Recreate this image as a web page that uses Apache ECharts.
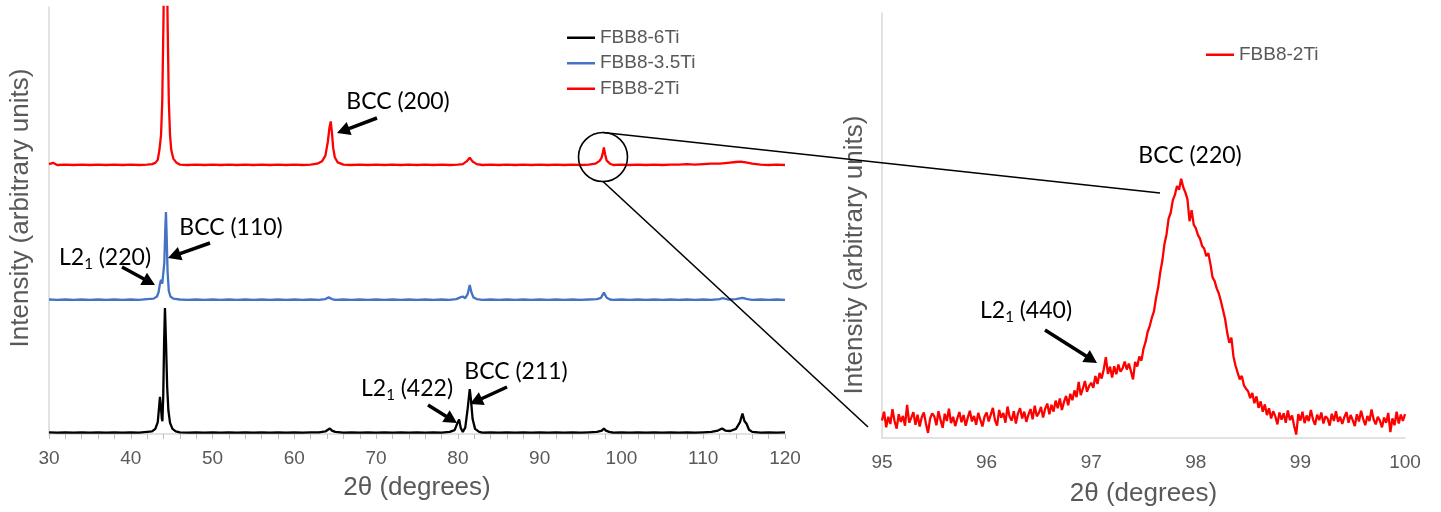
<!DOCTYPE html>
<html>
<head>
<meta charset="utf-8">
<title>XRD patterns of FBB8 alloys</title>
<script src="https://cdn.jsdelivr.net/npm/echarts/dist/echarts.min.js"></script>
<style>
  html, body { margin: 0; padding: 0; background: #ffffff; }
  #chart { width: 1441px; height: 512px; }
</style>
</head>
<body>
<div id="chart"></div>
<script>
// ---- Full scans, 2θ = 30–120°, stacked with a vertical offset (arbitrary units) ----
const sample6Ti = [
  [30,0.4],[31,0.3],[32,0.4],[33,0.3],[34,0.4],[35,0.3],[36,0.4],[37,0.3],[38,0.4],[39,0.3],[40,0.4],[41,0.3],[42,0.5],
  [42.6,0.6],[43.0,1.2],[43.3,2.8],[43.45,6.0],[43.57,8.7],[43.68,6.5],[43.8,3.6],[43.87,3.0],[43.97,9.0],[44.08,22.0],
  [44.18,29.5],[44.3,22.0],[44.45,11.0],[44.6,5.5],[44.8,2.6],[45.1,1.2],[45.5,0.6],
  [46,0.4],[47,0.3],[48,0.4],[49,0.3],[50,0.4],[51,0.3],[52,0.4],[53,0.3],[54,0.4],[55,0.3],[56,0.4],[57,0.3],[58,0.4],
  [59,0.3],[60,0.4],[61,0.3],[62,0.4],[63,0.4],[63.8,0.6],[64.1,1.0],[64.35,1.3],[64.6,0.8],[65,0.5],[66,0.3],[67,0.4],
  [68,0.3],[69,0.4],[70,0.3],[71,0.4],[72,0.3],[73,0.4],[74,0.3],[75,0.4],[76,0.3],[77,0.4],[78,0.3],[79,0.5],
  [79.6,0.9],[79.95,2.6],[80.15,3.4],[80.35,1.4],[80.6,0.5],[80.9,1.5],[81.2,6.0],[81.45,10.5],[81.6,8.0],[81.8,3.5],
  [82.1,1.2],[82.6,0.5],[83,0.3],[84,0.4],[85,0.3],[86,0.4],[87,0.3],[88,0.4],[89,0.3],[90,0.4],[91,0.3],[92,0.4],
  [93,0.3],[94,0.4],[95,0.3],[96,0.4],[97,0.5],[97.6,0.8],[97.85,1.3],[98.1,0.8],[98.5,0.5],[99,0.3],[100,0.4],
  [101,0.3],[102,0.4],[103,0.3],[104,0.4],[105,0.3],[106,0.4],[107,0.3],[108,0.4],[109,0.3],[110,0.4],[111,0.5],
  [111.8,0.8],[112.3,1.3],[112.7,0.8],[113.3,0.7],[114.0,1.2],[114.5,2.8],[114.8,4.8],[115.05,3.0],[115.3,2.4],
  [115.6,1.0],[116,0.5],[117,0.3],[118,0.4],[119,0.3],[120,0.4]
];

const sample35Ti = [
  [30,31.5],[31,31.4],[32,31.5],[33,31.4],[34,31.5],[35,31.4],[36,31.5],[37,31.4],[38,31.5],[39,31.4],[40,31.5],
  [41,31.4],[42,31.6],[42.8,31.7],[43.2,32.2],[43.4,33.2],[43.55,35.0],[43.7,36.1],[43.85,35.2],[43.95,34.9],
  [44.1,40.0],[44.22,48.0],[44.3,52.0],[44.38,47.0],[44.5,38.0],[44.65,33.5],[44.85,32.2],[45.2,31.7],
  [46,31.5],[47,31.4],[48,31.5],[49,31.4],[50,31.5],[51,31.4],[52,31.5],[53,31.4],[54,31.5],[55,31.4],[56,31.5],
  [57,31.4],[58,31.5],[59,31.4],[60,31.5],[61,31.4],[62,31.5],[63,31.4],[63.8,31.6],[64.2,32.0],[64.6,31.6],
  [65,31.4],[66,31.5],[67,31.4],[68,31.5],[69,31.4],[70,31.5],[71,31.4],[72,31.5],[73,31.4],[74,31.5],[75,31.4],
  [76,31.5],[77,31.4],[78,31.5],[79,31.4],[79.8,31.6],[80.3,32.0],[80.6,32.2],[80.9,31.8],[81.2,32.8],[81.45,34.9],
  [81.65,33.2],[81.9,32.0],[82.3,31.6],[83,31.4],[84,31.5],[85,31.4],[86,31.5],[87,31.4],[88,31.5],[89,31.4],
  [90,31.5],[91,31.4],[92,31.5],[93,31.4],[94,31.5],[95,31.4],[96,31.5],[97,31.6],[97.5,31.9],[97.85,33.1],
  [98.2,31.9],[98.6,31.5],[99,31.4],[100,31.5],[101,31.4],[102,31.5],[103,31.4],[104,31.5],[105,31.4],[106,31.5],
  [107,31.4],[108,31.5],[109,31.4],[110,31.5],[111,31.4],[112,31.6],[112.4,31.8],[113,31.5],[114,31.6],[114.8,31.9],
  [115.4,31.6],[116,31.4],[117,31.5],[118,31.4],[119,31.5],[120,31.4]
];

const sample2Ti = [
  [30,63.2],[30.5,63.5],[31,63.0],[32,63.1],[33,63.0],[34,63.1],[35,63.0],[36,63.1],[37,63.0],[38,63.1],[39,63.0],
  [40,63.1],[41,63.0],[42,63.1],[42.6,63.2],[43.0,63.5],[43.3,64.2],[43.5,66.5],[43.7,70.0],[43.85,78.0],[44.0,97.0],
  [44.1,115.0],[44.2,135.0],[44.25,140.0],[44.3,135.0],[44.4,115.0],[44.5,97.0],[44.65,78.0],[44.8,70.0],[44.95,66.5],
  [45.2,64.5],[45.6,63.5],[46,63.1],[47,63.0],[48,63.1],[49,63.0],[50,63.1],[51,63.0],[52,63.1],[53,63.0],[54,63.1],
  [55,63.0],[56,63.1],[57,63.0],[58,63.1],[59,63.0],[60,63.1],[61,63.0],[62,63.1],[62.8,63.3],[63.4,63.9],[63.8,65.2],
  [64.1,68.5],[64.3,71.8],[64.45,73.2],[64.6,70.5],[64.75,67.0],[64.95,64.8],[65.3,63.6],[66,63.1],[67,63.0],
  [68,63.1],[69,63.0],[70,63.1],[71,63.0],[72,63.1],[73,63.0],[74,63.1],[75,63.0],[76,63.1],[77,63.0],[78,63.1],
  [79,63.0],[80,63.1],[80.6,63.2],[81.1,63.9],[81.45,64.7],[81.8,63.8],[82.3,63.2],[83,63.0],[84,63.1],[85,63.0],
  [86,63.1],[87,63.0],[88,63.1],[89,63.0],[90,63.1],[91,63.0],[92,63.1],[93,63.0],[94,63.1],[95,63.0],[96,63.1],
  [96.8,63.3],[97.3,63.9],[97.55,64.6],[97.7,65.6],[97.85,67.1],[98.0,65.5],[98.2,64.0],[98.6,63.3],[99,63.0],
  [100,63.1],[101,63.0],[102,63.1],[103,63.0],[104,63.1],[105,63.0],[106,63.1],[107,63.1],[108,63.2],[109,63.1],
  [110,63.2],[111,63.3],[112,63.3],[113,63.5],[114,63.7],[114.6,63.8],[115.2,63.6],[116,63.3],[117,63.1],[118,63.0],
  [119,63.1],[120,63.0]
];

// ---- Slow scan of FBB8-2Ti around the BCC (220) reflection ----
const zoomScanStart = 95.0;   // first 2θ of the scan
const zoomScanStep = 0.02;    // 2θ step of the scan
const zoom2TiIntensity = [
  4.1, 6.2, 2.5, 5.0, 3.3, 6.8, 4.0, 2.2, 5.6, 3.8, 5.2, 2.9, 7.8, 3.6, 4.8, 6.1, 3.1, 5.5, 2.7, 4.9, 6.0, 3.4, 1.2, 4.6, 5.8,
  5.1, 3.0, 6.3, 4.2, 2.4, 5.7, 4.0, 6.9, 3.5, 5.0, 2.8, 4.6, 6.1, 3.7, 5.4, 2.9, 4.8, 6.4, 3.9, 5.2, 3.1, 5.9, 4.3, 2.7, 5.0,
  6.0, 3.9, 5.5, 7.1, 4.2, 2.9, 6.6, 4.8, 5.9, 3.6, 7.4, 5.0, 4.1, 6.3, 3.4, 5.8, 7.0, 4.6, 6.2, 3.8, 5.5, 6.8, 4.4, 7.6, 5.1,
  5.9, 7.3, 4.8, 6.9, 8.1, 5.6, 7.8, 6.2, 8.8, 7.0, 9.3, 6.6, 8.5, 9.9, 7.7, 10.4, 8.9, 11.2, 9.6, 13.2, 10.1, 11.6, 13.4, 10.9, 12.2,
  13.0, 11.8, 14.6, 12.7, 15.3, 14.0, 16.2, 19.0, 15.1, 16.8, 14.2, 16.9, 15.0, 17.3, 15.6, 16.4, 18.0, 16.1, 17.5, 15.7, 13.8, 17.9, 16.8, 19.2, 18.2,
  21.0, 22.6, 25.0, 26.4, 28.3, 29.8, 33.0, 35.4, 39.0, 41.7, 45.6, 47.9, 51.6, 53.0, 55.9, 57.2, 59.3, 58.4, 61.0, 59.0, 57.8, 56.2, 51.0, 53.6, 50.2,
  49.4, 47.8, 46.9, 45.2, 44.6, 42.8, 43.5, 40.9, 37.8, 36.9, 35.2, 34.0, 32.2, 30.1, 28.0, 24.8, 22.4, 23.6, 19.2, 17.0, 15.4, 13.8, 14.6, 12.4, 11.6,
  11.0, 9.4, 10.6, 8.2, 9.8, 7.1, 8.6, 6.2, 7.9, 5.4, 7.0, 4.6, 6.3, 5.1, 3.2, 6.0, 4.3, 5.8, 3.6, 6.5, 4.2, 5.3, 2.9, 0.8, 5.6,
  4.1, 6.2, 3.5, 5.3, 4.0, 6.6, 4.4, 3.1, 5.5, 4.2, 6.0, 3.4, 5.1, 4.6, 2.9, 5.7, 4.0, 6.3, 3.8, 5.0, 3.3, 4.9, 6.1, 3.6, 5.4,
  4.2, 2.8, 5.6, 3.9, 6.4, 4.5, 3.0, 5.2, 4.0, 6.7, 4.4, 3.2, 5.0, 4.1, 2.5, 4.8, 3.6, 5.9, 1.4, 4.6, 3.0, 6.2, 3.4, 5.5, 4.0,
  5.6
];

const seriesNames = ['FBB8-6Ti', 'FBB8-3.5Ti', 'FBB8-2Ti'];
const seriesColors = ['#000000', '#4472C4', '#FF0000'];

const fullRange = { min: 30, max: 120, step: 10 };
const zoomRange = { min: 95, max: 100, step: 1 };

// ---- styling ----
const AXIS_GRAY = '#d9d9d9';
const TICK_GRAY = '#bfbfbf';
const TEXT_GRAY = '#595959';
const SANS = '"Liberation Sans", Arial, sans-serif';
const NOTE_FONT = 'Lato, "Open Sans", sans-serif';

const zoomScan = zoom2TiIntensity.map((v, i) => [+(zoomScanStart + i * zoomScanStep).toFixed(2), v]);

const chart = echarts.init(document.getElementById('chart'), null, { renderer: 'canvas' });

function xAxisFor(grid, range, nameGap, withTicks) {
  return {
    gridIndex: grid, type: 'value', min: range.min, max: range.max, interval: range.step,
    axisLine: { show: true, onZero: false, lineStyle: { color: AXIS_GRAY, width: 1.5 } },
    axisTick: { show: withTicks, length: 5, lineStyle: { color: TICK_GRAY, width: 1 } },
    minorTick: { show: withTicks, splitNumber: 5, length: 5, lineStyle: { color: TICK_GRAY, width: 1 } },
    splitLine: { show: false },
    axisLabel: { color: TEXT_GRAY, fontSize: 19, fontFamily: SANS, margin: 15 },
    name: '2θ (degrees)', nameLocation: 'middle', nameGap: nameGap,
    nameTextStyle: { color: TEXT_GRAY, fontSize: 26, fontFamily: SANS }
  };
}

function yAxisFor(grid) {
  return {
    gridIndex: grid, type: 'value', min: 0, max: 100,
    axisLine: { show: true, lineStyle: { color: AXIS_GRAY, width: 1.5 } },
    axisTick: { show: false }, axisLabel: { show: false }, splitLine: { show: false }
  };
}

function lineSeries(name, color, data, axis) {
  return {
    name: name, type: 'line', xAxisIndex: axis, yAxisIndex: axis, data: data,
    color: color, showSymbol: false, symbol: 'none', clip: true,
    lineStyle: { color: color, width: 2.3 }, itemStyle: { color: color }
  };
}

function arrow(x1, y1, x2, y2) {
  const dx = x2 - x1, dy = y2 - y1, len = Math.hypot(dx, dy);
  const ux = dx / len, uy = dy / len, hl = 13, hw = 7;
  const bx = x2 - ux * hl, by = y2 - uy * hl;
  return [
    { type: 'line', z: 100, shape: { x1: x1, y1: y1, x2: bx + ux, y2: by + uy },
      style: { stroke: '#000', lineWidth: 3.5 } },
    { type: 'polygon', z: 100,
      shape: { points: [[x2, y2], [bx - uy * hw, by + ux * hw], [bx + uy * hw, by - ux * hw]] },
      style: { fill: '#000' } }
  ];
}

const noteRich = {
  a: { fontSize: 23, fontFamily: NOTE_FONT, fill: '#000', lineHeight: 28 },
  s: { fontSize: 15, fontFamily: NOTE_FONT, fill: '#000', lineHeight: 12, verticalAlign: 'bottom' }
};

function note(x, y, label) {
  return {
    type: 'text', z: 100, x: x, y: y,
    style: { text: label, rich: noteRich, align: 'center', verticalAlign: 'middle' }
  };
}

function yTitle(x, y) {
  return {
    type: 'text', x: x, y: y, rotation: Math.PI / 2,
    style: { text: 'Intensity (arbitrary units)', fontSize: 26, fontFamily: SANS, fill: TEXT_GRAY,
             align: 'center', verticalAlign: 'middle' }
  };
}

const graphics = [
  yTitle(21, 208),
  yTitle(855, 255),
  note(398, 102, '{a|BCC (200)}'),
  note(231, 228, '{a|BCC (110)}'),
  note(105, 258, '{a|L2}{s|1}{a| (220)}'),
  note(407, 389, '{a|L2}{s|1}{a| (422)}'),
  note(516, 372, '{a|BCC (211)}'),
  note(1190, 156, '{a|BCC (220)}'),
  note(1026, 311, '{a|L2}{s|1}{a| (440)}'),
  ...arrow(377, 118, 337, 133),
  ...arrow(210, 243, 168, 258),
  ...arrow(122, 267, 155, 285),
  ...arrow(428, 405, 457, 423),
  ...arrow(507, 387, 470, 404),
  ...arrow(1045, 330, 1097, 363),
  // magnifier: circle around the 98° reflection and the two guide lines to the inset
  { type: 'circle', z: 90, shape: { cx: 603, cy: 157, r: 24.5 }, style: { fill: 'none', stroke: '#000', lineWidth: 1.6 } },
  { type: 'line', z: 90, shape: { x1: 603, y1: 132.5, x2: 1160, y2: 193 }, style: { stroke: '#000', lineWidth: 1.6 } },
  { type: 'line', z: 90, shape: { x1: 603, y1: 181.5, x2: 868, y2: 427 }, style: { stroke: '#000', lineWidth: 1.6 } }
];

const legendText = { color: TEXT_GRAY, fontSize: 19, fontFamily: SANS, lineHeight: 19.5 };

chart.setOption({
  animation: false,
  backgroundColor: '#ffffff',
  grid: [
    { left: 49, top: 7, width: 736, height: 427 },
    { left: 882, top: 13, width: 523, height: 425 }
  ],
  xAxis: [xAxisFor(0, fullRange, 41, true), xAxisFor(1, zoomRange, 43, false)],
  yAxis: [yAxisFor(0), yAxisFor(1)],
  legend: [
    { data: seriesNames, orient: 'vertical', left: 562, top: 23, icon: 'rect', itemWidth: 28, itemHeight: 2.5,
      itemGap: 6, selectedMode: false, textStyle: legendText },
    { data: [seriesNames[2]], orient: 'vertical', left: 1201, top: 40, icon: 'rect', itemWidth: 28, itemHeight: 2.5,
      selectedMode: false, textStyle: legendText }
  ],
  series: [
    lineSeries(seriesNames[0], seriesColors[0], sample6Ti, 0),
    lineSeries(seriesNames[1], seriesColors[1], sample35Ti, 0),
    lineSeries(seriesNames[2], seriesColors[2], sample2Ti, 0),
    lineSeries(seriesNames[2], seriesColors[2], zoomScan, 1)
  ],
  graphic: graphics
});
</script>
</body>
</html>
